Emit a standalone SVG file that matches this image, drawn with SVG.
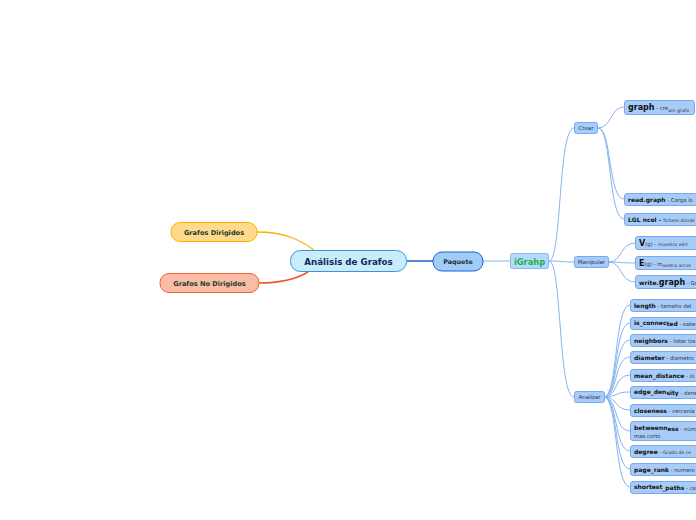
<svg xmlns="http://www.w3.org/2000/svg" width="696" height="520" viewBox="0 0 696 520">
<style>
.bg{fill:#ffffff}
.lf rect{fill:#a8ccf8;stroke:#78a8ee;stroke-width:1}
.l2 rect{fill:#a8ccf8;stroke:#78a8ee;stroke-width:1}
.l2 text{font-family:"DejaVu Sans",sans-serif;font-size:5.5px;fill:#2a3550;text-anchor:middle}
.k{font-family:"DejaVu Sans",sans-serif;font-size:6px;font-weight:bold;fill:#111}
.kb{font-family:"DejaVu Sans",sans-serif;font-size:8px;font-weight:bold;fill:#111}
.d{font-family:"DejaVu Sans",sans-serif;font-size:5.3px;fill:#333}
.ds{font-family:"DejaVu Sans",sans-serif;font-size:4.6px;fill:#333}
.c{fill:none;stroke:#86b4f0;stroke-width:1}
</style>
<rect class="bg" x="0" y="0" width="696" height="520"/>
<g id="connectors">
<path d="M257,232 C285,232 300,240 314,250" fill="none" stroke="#f5b400" stroke-width="1.3"/>
<path d="M259,283 C285,283 298,278 308,272" fill="none" stroke="#f0552a" stroke-width="1.5"/>
<path d="M407,261 L433,261" fill="none" stroke="#1a5fc8" stroke-width="1.5"/>
<path d="M483,261 L510,261" class="c"/>
<path class="c" d="M549,261 C562,261 558,128 574,128"/>
<path class="c" d="M549,261 C560,261 562,262 574,262"/>
<path class="c" d="M549,261 C562,261 558,397 574,397"/>
<path class="c" d="M598,128 C612,128 610,107 624,107"/>
<path class="c" d="M598,128 C612,128 608,199 624,199"/>
<path class="c" d="M598,128 C612,128 608,219 624,219"/>
<path class="c" d="M609,262 C622,262 620,243 635,243"/>
<path class="c" d="M609,262 C622,262 620,263 635,263"/>
<path class="c" d="M609,262 C622,262 620,282 635,282"/>
<path class="c" d="M604,397 C618,397 614,305 630,305"/>
<path class="c" d="M604,397 C618,397 614,323 630,323"/>
<path class="c" d="M604,397 C618,397 614,340 630,340"/>
<path class="c" d="M604,397 C618,397 614,357 630,357"/>
<path class="c" d="M604,397 C618,397 614,375 630,375"/>
<path class="c" d="M604,397 C618,397 614,392 630,392"/>
<path class="c" d="M604,397 C618,397 614,410 630,410"/>
<path class="c" d="M604,397 C618,397 614,431 630,431"/>
<path class="c" d="M604,397 C618,397 614,451 630,451"/>
<path class="c" d="M604,397 C618,397 614,469 630,469"/>
<path class="c" d="M604,397 C618,397 614,487 630,487"/>
</g>
<g id="central">
<rect x="290.5" y="250.5" width="116" height="21" rx="10" fill="#c8ecfc" stroke="#3a96d6" stroke-width="1"/>
<text x="348.5" y="264.5" font-family="DejaVu Sans, sans-serif" font-size="8.7" font-weight="bold" fill="#102a58" text-anchor="middle">Análisis de Grafos</text>
</g>
<g id="grafos-dirigidos">
<rect x="171" y="222.5" width="86" height="19" rx="9" fill="#ffd98c" stroke="#f5b500" stroke-width="1"/>
<text x="214" y="234.5" font-family="DejaVu Sans, sans-serif" font-size="6.6" font-weight="bold" fill="#1f3a2c" text-anchor="middle">Grafos Dirigidos</text>
</g>
<g id="grafos-no-dirigidos">
<rect x="160" y="273.5" width="99" height="19" rx="9" fill="#f9bca6" stroke="#f06030" stroke-width="1"/>
<text x="209.5" y="285.5" font-family="DejaVu Sans, sans-serif" font-size="6.6" font-weight="bold" fill="#1f3a2c" text-anchor="middle">Grafos No Dirigidos</text>
</g>
<g id="paquete">
<rect x="433" y="252" width="50" height="19" rx="9" fill="#a0cdf8" stroke="#1a62cc" stroke-width="1"/>
<text x="458" y="264" font-family="DejaVu Sans, sans-serif" font-size="6.4" font-weight="bold" fill="#1f3030" text-anchor="middle">Paquete</text>
</g>
<g id="igrahp">
<rect x="510.5" y="253.5" width="38" height="15" rx="2" fill="#b4dafc" stroke="#88b8f0" stroke-width="1"/>
<text x="529.5" y="264.5" font-family="DejaVu Sans, sans-serif" font-size="8.3" font-weight="bold" fill="#1fae4c" text-anchor="middle">iGrahp</text>
</g>
<g id="crear" class="l2"><rect x="574.5" y="122.5" width="23" height="11" rx="2"/><text x="586" y="130">Crear</text></g>
<g id="manipular" class="l2"><rect x="574.5" y="256.5" width="34" height="11" rx="2"/><text x="591.5" y="264">Manipular</text></g>
<g id="analizar" class="l2"><rect x="574.5" y="391.5" width="30" height="11" rx="2"/><text x="589.5" y="399">Analizar</text></g>

<g id="graph" class="lf"><rect x="624.5" y="100.5" width="70" height="14" rx="2.5"/><text x="628" y="110"><tspan class="kb">graph</tspan><tspan class="d"> - cre</tspan><tspan class="ds" dy="1.5">are grafo</tspan></text></g>
<g id="read-graph" class="lf"><rect x="624.5" y="193.5" width="90" height="12" rx="2.5"/><text x="628" y="202"><tspan class="k" font-size="6.5">read.graph</tspan><tspan class="d"> - Carga lo</tspan></text></g>
<g id="lgl-ncol" class="lf"><rect x="624.5" y="213.5" width="90" height="12" rx="2.5"/><text x="628" y="222"><tspan class="k" font-size="5.3">LGL ncol - </tspan><tspan class="ds">fichero donde</tspan></text></g>

<g id="vg" class="lf"><rect x="635.5" y="236.5" width="80" height="13" rx="2.5"/><text x="639" y="246"><tspan class="kb">V</tspan><tspan class="d">(g) - </tspan><tspan class="ds">muestra vért</tspan></text></g>
<g id="eg" class="lf"><rect x="635.5" y="256.5" width="80" height="13" rx="2.5"/><text x="639" y="266"><tspan class="kb">E</tspan><tspan class="d">(g) - m</tspan><tspan class="ds" dy="0.8">uestra arcos</tspan></text></g>
<g id="write-graph" class="lf"><rect x="635.5" y="275.5" width="80" height="13" rx="2.5"/><text x="639" y="285"><tspan class="k" font-size="5.5">write.</tspan><tspan class="kb">graph</tspan><tspan class="d"> - Gr</tspan></text></g>

<g id="length" class="lf"><rect x="630.5" y="299.5" width="80" height="12" rx="2.5"/><text x="634" y="307.5"><tspan class="k" font-size="5.3">length</tspan><tspan class="d"> - tamaño del</tspan></text></g>
<g id="is-connected" class="lf"><rect x="630.5" y="317.5" width="80" height="12" rx="2.5"/><text x="634" y="325"><tspan class="k" font-size="5.3">is_connec</tspan><tspan class="k" font-size="5.3" dy="1">ted</tspan><tspan class="d"> - sabe</tspan></text></g>
<g id="neighbors" class="lf"><rect x="630.5" y="334.5" width="80" height="12" rx="2.5"/><text x="634" y="342.5"><tspan class="k" font-size="5.3">neighbors</tspan><tspan class="d"> - listar los</tspan></text></g>
<g id="diameter" class="lf"><rect x="630.5" y="351.5" width="80" height="12" rx="2.5"/><text x="634" y="359.5"><tspan class="k" font-size="5.3">diameter</tspan><tspan class="d"> - diametro</tspan></text></g>
<g id="mean-distance" class="lf"><rect x="630.5" y="369.5" width="80" height="12" rx="2.5"/><text x="634" y="377.5"><tspan class="k" font-size="5.3">mean_distance</tspan><tspan class="d"> - lo</tspan></text></g>
<g id="edge-density" class="lf"><rect x="630.5" y="386.5" width="80" height="12" rx="2.5"/><text x="634" y="394"><tspan class="k" font-size="5.3">edge_den</tspan><tspan class="k" font-size="5.3" dy="1">sity</tspan><tspan class="d"> - dens</tspan></text></g>
<g id="closeness" class="lf"><rect x="630.5" y="404.5" width="80" height="12" rx="2.5"/><text x="634" y="412.5"><tspan class="k" font-size="5.3">closeness</tspan><tspan class="d"> - cercanía</tspan></text></g>
<g id="betweenness" class="lf"><rect x="630.5" y="421.5" width="80" height="19" rx="2.5"/><text x="634" y="430"><tspan class="k" font-size="5.3">betweenn</tspan><tspan class="k" font-size="5" dy="1">ess</tspan><tspan class="d"> - núm</tspan></text><text x="634" y="437.5" class="d">mas corto</text></g>
<g id="degree" class="lf"><rect x="630.5" y="445.5" width="80" height="12" rx="2.5"/><text x="634" y="453.5"><tspan class="k" font-size="5.3">degree</tspan><tspan class="d"> - </tspan><tspan class="ds" dy="0.6">Grado de ce</tspan></text></g>
<g id="page-rank" class="lf"><rect x="630.5" y="463.5" width="80" height="12" rx="2.5"/><text x="634" y="471.5"><tspan class="k" font-size="5.3">page_rank</tspan><tspan class="d"> - numero</tspan></text></g>
<g id="shortest-paths" class="lf"><rect x="630.5" y="481.5" width="80" height="12" rx="2.5"/><text x="634" y="489"><tspan class="k" font-size="5.3">shortest</tspan><tspan class="k" font-size="5.3" dy="1">_paths</tspan><tspan class="d"> - ca</tspan></text></g>
</svg>
